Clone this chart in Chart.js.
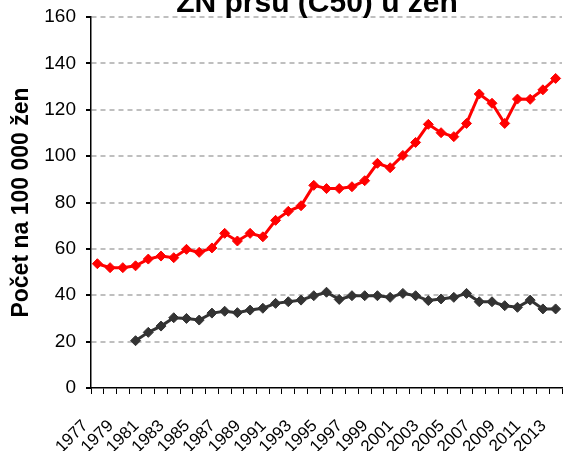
<!DOCTYPE html>
<html>
<head>
<meta charset="utf-8">
<script src="https://cdn.jsdelivr.net/npm/chart.js@4.4.1/dist/chart.umd.min.js"></script>
<style>
  html, body { margin: 0; padding: 0; background: #fff; }
  #wrap { width: 568px; height: 451px; }
</style>
</head>
<body>
<div id="wrap"><canvas id="myChart"></canvas></div>
<script>
// data
const chartTitle = 'ZN prsu (C50) u žen';
const yTitle = 'Počet na 100 000 žen';

const years = [
  '1977', '1978', '1979', '1980', '1981', '1982', '1983', '1984', '1985', '1986',
  '1987', '1988', '1989', '1990', '1991', '1992', '1993', '1994', '1995', '1996',
  '1997', '1998', '1999', '2000', '2001', '2002', '2003', '2004', '2005', '2006',
  '2007', '2008', '2009', '2010', '2011', '2012', '2013'
];

// red line
const incidence = [
  53.6, 51.9, 51.9, 52.7, 55.6, 56.9, 56.2, 59.8, 58.5, 60.4,
  66.7, 63.4, 66.7, 65.2, 72.3, 76.2, 78.6, 87.4, 86.0, 86.0,
  86.8, 89.4, 96.9, 95.0, 100.3, 105.9, 113.7, 110.1, 108.4, 114.1,
  126.8, 122.8, 114.1, 124.6, 124.5, 128.6, 133.5
];

// dark line (starts 1980)
const mortality = [
  null, null, null, 20.4, 24.0, 26.7, 30.3, 30.0, 29.3, 32.3,
  33.1, 32.5, 33.6, 34.4, 36.5, 37.2, 37.9, 39.8, 41.3, 38.2,
  39.8, 39.8, 39.8, 39.1, 40.8, 39.8, 37.7, 38.4, 39.1, 40.8,
  37.2, 37.2, 35.5, 34.8, 37.9, 34.1, 34.1
];

const yTicks = [0, 20, 40, 60, 80, 100, 120, 140, 160];

const font = '"Liberation Sans", Arial, sans-serif';

// title is cut at the top in the original, draw it by hand
const topTitle = {
  id: 'topTitle',
  afterDraw(chart) {
    const ctx = chart.ctx;
    ctx.save();
    ctx.font = 'bold 30px ' + font;
    ctx.fillStyle = '#000';
    ctx.textAlign = 'center';
    ctx.textBaseline = 'alphabetic';
    ctx.fillText(chartTitle, 317, 12);
    ctx.restore();
  }
};

const data = {
  labels: years,
  datasets: [{
    label: 'incidence',
    data: incidence,
    borderColor: '#ff0000',
    backgroundColor: '#ff0000',
    borderWidth: 3,
    pointStyle: 'rectRot',
    pointRadius: 5,
    pointBorderWidth: 1,
    tension: 0
  }, {
    label: 'mortalita',
    data: mortality,
    borderColor: '#333333',
    backgroundColor: '#333333',
    borderWidth: 3,
    pointStyle: 'rectRot',
    pointRadius: 5,
    pointBorderWidth: 1,
    tension: 0
  }]
};

const config = {
  type: 'line',
  data: data,
  options: {
    responsive: false,
    animation: false,
    layout: { padding: { top: 17, left: 0, right: 0, bottom: 0 } },
    plugins: {
      legend: { display: false },
      title: { display: false },
      tooltip: { enabled: false }
    },
    scales: {
      x: {
        offset: true,
        grid: {
          offset: true,
          drawOnChartArea: false,
          color: '#000',
          tickColor: '#000',
          tickLength: 6,
          lineWidth: 1
        },
        border: { color: '#000', width: 1.5 },
        ticks: {
          autoSkip: false,
          minRotation: 45,
          maxRotation: 45,
          labelOffset: -12,
          padding: 22,
          color: '#000',
          font: { family: font, size: 17 },
          callback: function(v, i) { return i % 2 === 0 ? years[i] : ''; }
        },
        afterFit: function(scale) {
          scale.height = 63;
          scale.paddingLeft = 0;
          scale.paddingRight = 0;
        }
      },
      y: {
        min: 0,
        max: 160,
        afterBuildTicks: function(scale) {
          scale.ticks = yTicks.map(v => ({ value: v }));
        },
        grid: {
          color: ctx => (ctx.tick && ctx.tick.value === 0) ? 'rgba(0,0,0,0)' : '#bfbfbf',
          tickColor: '#000',
          lineWidth: 2,
          tickLength: 5
        },
        border: { color: '#000', width: 1.5, dash: [5, 4] },
        ticks: {
          padding: 10,
          color: '#000',
          font: { family: font, size: 19 }
        },
        title: {
          display: true,
          text: yTitle,
          color: '#000',
          font: { family: font, size: 23, weight: 'bold' },
          padding: { top: 8, bottom: 0 }
        },
        afterFit: function(scale) {
          scale.width = 91;
          scale.paddingTop = 0;
          scale.paddingBottom = 0;
        }
      }
    }
  },
  plugins: [topTitle]
};

const canvas = document.getElementById('myChart');
canvas.width = 568;
canvas.height = 451;
const myChart = new Chart(canvas, config);
</script>
</body>
</html>
